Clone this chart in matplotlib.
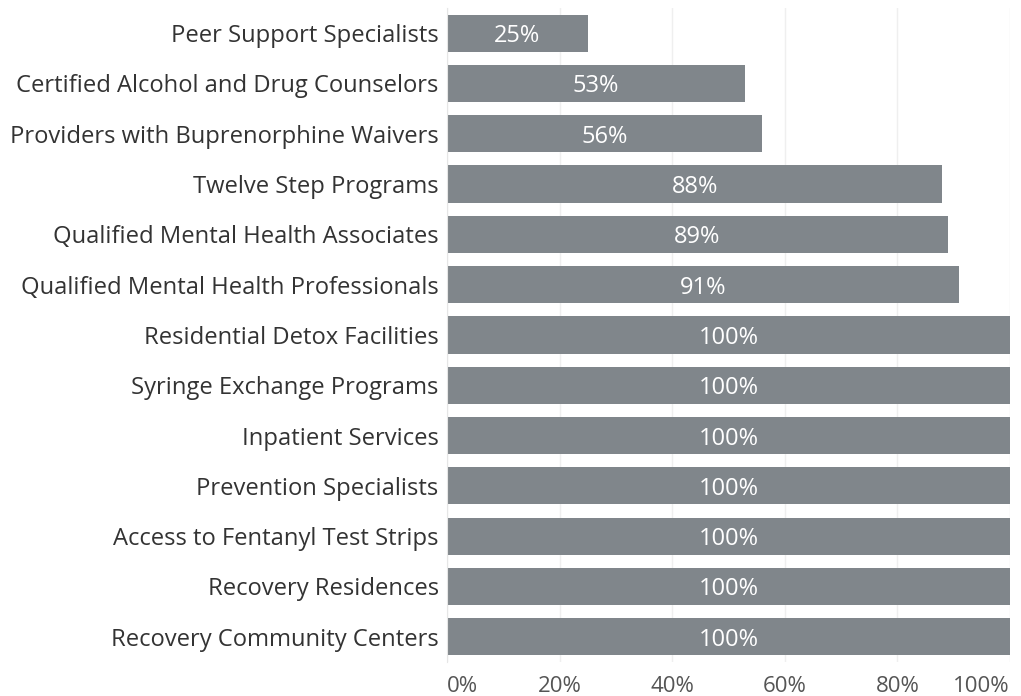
import matplotlib.pyplot as plt
from matplotlib.ticker import PercentFormatter

categories = [
    'Peer Support Specialists',
    'Certified Alcohol and Drug Counselors',
    'Providers with Buprenorphine Waivers',
    'Twelve Step Programs',
    'Qualified Mental Health Associates',
    'Qualified Mental Health Professionals',
    'Residential Detox Facilities',
    'Syringe Exchange Programs',
    'Inpatient Services',
    'Prevention Specialists',
    'Access to Fentanyl Test Strips',
    'Recovery Residences',
    'Recovery Community Centers',
]
percents = [25, 53, 56, 88, 89, 91, 100, 100, 100, 100, 100, 100, 100]
x_ticks = [0, 20, 40, 60, 80, 100]

plt.rcParams['font.family'] = ['Open Sans', 'DejaVu Sans']

fig = plt.figure(figsize=(10.21, 6.96), dpi=100)
ax = fig.add_axes([0.4378, 0.049, 0.5514, 0.9395])

bar_color = '#80868b'
y = range(len(categories))
ax.barh(y, percents, height=0.74, color=bar_color, zorder=2)

# value labels centred in each bar
for i, v in enumerate(percents):
    ax.text(v / 2, i, f'{v}%', ha='center', va='center_baseline',
            color='white', fontsize=17, zorder=3)

ax.set_ylim(len(categories) - 0.5, -0.5)
ax.set_xlim(0, 100)
ax.set_yticks(list(y))
ax.set_yticklabels(categories, fontsize=17.1, color='#333333')
ax.set_xticks(x_ticks)
ax.xaxis.set_major_formatter(PercentFormatter(decimals=0))
ax.tick_params(axis='x', labelsize=16, colors='#555555', length=0, pad=10.5)
ax.tick_params(axis='y', length=0, pad=6)

# keep the end labels inside the axis width
xlabels = ax.get_xticklabels()
xlabels[0].set_horizontalalignment('left')
xlabels[-1].set_horizontalalignment('right')

ax.grid(axis='x', color='#efefef', linewidth=1, zorder=0)
for side in ['top', 'right', 'bottom']:
    ax.spines[side].set_visible(False)
ax.spines['left'].set_color('#e6e6e6')

fig.savefig('out.png', dpi=100)
